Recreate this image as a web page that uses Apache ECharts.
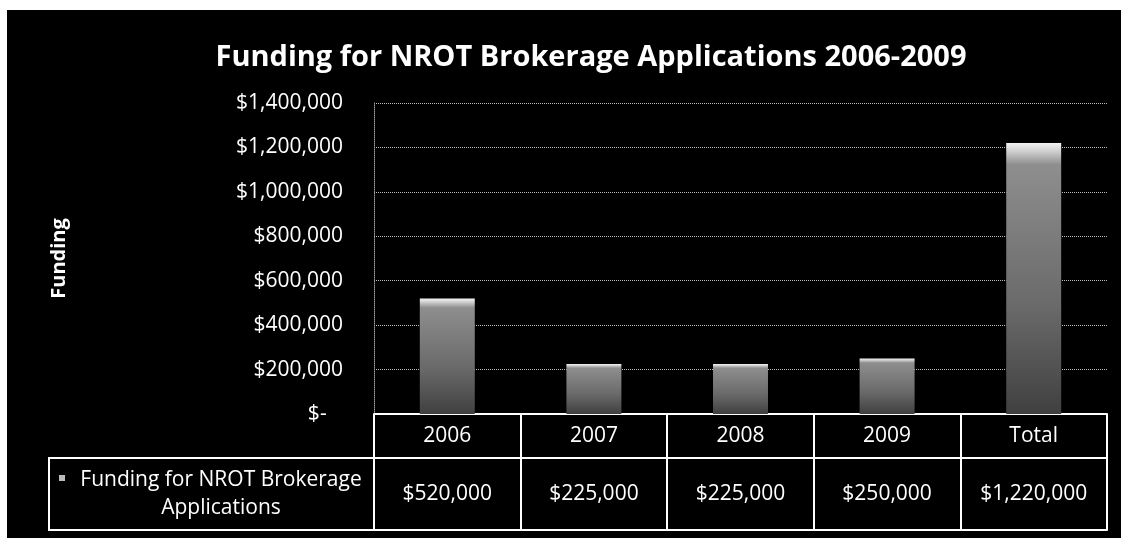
<!DOCTYPE html>
<html style="height: 100%">
    <head>
        <title>Funding for NROT Brokerage Applications</title>
        <script type="text/javascript" src="https://fastly.jsdelivr.net/npm/echarts@6.0.0/dist/echarts.min.js"></script>
    </head>
    <body style="height: 100%; margin: 0; background: #fff">
        <div id="target" style="position: absolute; left: 7px; top: 10px; width: 1114px; height: 528px; background: #000"></div>

<script type="text/javascript">
// chart data
let categories = ["2006", "2007", "2008", "2009", "Total"];
let funding = [520000, 225000, 225000, 250000, 1220000];
let seriesName = "Funding for NROT Brokerage Applications";
let yTicks = [0, 200000, 400000, 600000, 800000, 1000000, 1200000, 1400000];

let fontFamily = "'Open Sans', sans-serif";
let labelSize = 21;

let Money = (v) => {
    if (v == 0) return "$-   ";
    return "$" + v.toLocaleString("en-US");
};

let chart = echarts.init(document.getElementById('target'));
window.addEventListener("resize", chart.resize);

// plot area inside the black box (container coords)
let gridLeft = 367;
let gridTop = 93;
let gridRight = 14;
let gridBottom = 124;
let row1 = 44;
let row2 = 72;
let tableTop = 528 - gridBottom;

let option = {
    backgroundColor: "#000",
    textStyle: { fontFamily: fontFamily },
    animation: false,
    title: {
        text: "Funding for NROT Brokerage Applications 2006-2009",
        left: 579,
        top: 16,
        textAlign: "center",
        textStyle: {
            color: "#fff",
            fontSize: 29,
            fontWeight: "bold",
            fontFamily: fontFamily,
        },
    },
    grid: {
        left: gridLeft,
        top: gridTop,
        right: gridRight,
        bottom: gridBottom,
        containLabel: false,
    },
    xAxis: [
        {
            type: "category",
            data: categories,
            position: "bottom",
            axisLine: { show: true, lineStyle: { color: "#fff", width: 2 } },
            axisTick: { show: true, length: row1, lineStyle: { color: "#fff", width: 2 } },
            axisLabel: {
                color: "#fff",
                fontSize: labelSize,
                margin: row1 / 2,
                verticalAlign: "middle",
            },
        },
        {
            type: "category",
            data: funding.map(Money),
            position: "bottom",
            offset: row1,
            axisLine: { show: true, lineStyle: { color: "#fff", width: 2 } },
            axisTick: { show: true, length: row2, lineStyle: { color: "#fff", width: 2 } },
            axisLabel: {
                color: "#fff",
                fontSize: labelSize,
                margin: row2 / 2,
                verticalAlign: "middle",
            },
        },
        {
            type: "category",
            data: categories,
            position: "bottom",
            offset: row1 + row2,
            axisLine: { show: true, lineStyle: { color: "#fff", width: 2 } },
            axisTick: { show: false },
            axisLabel: { show: false },
        },
    ],
    yAxis: {
        type: "value",
        min: yTicks[0],
        max: yTicks[yTicks.length - 1],
        interval: yTicks[1] - yTicks[0],
        name: "Funding",
        nameLocation: "middle",
        nameGap: 296,
        nameTextStyle: {
            color: "#fff",
            fontSize: 20,
            fontWeight: "bold",
            fontFamily: fontFamily,
        },
        axisLine: { show: true, lineStyle: { color: "#999", type: "dotted", width: 1 } },
        axisTick: { show: false },
        axisLabel: {
            color: "#fff",
            fontSize: labelSize,
            margin: 31,
            formatter: (v) => Money(v),
        },
        splitLine: { show: true, lineStyle: { color: "#bbb", type: "dotted", width: 1 } },
    },
    series: [
        {
            name: seriesName,
            type: "bar",
            data: funding,
            barWidth: "37.5%",
            xAxisIndex: 0,
            itemStyle: {
                color: {
                    type: "linear",
                    x: 0, y: 0, x2: 0, y2: 1,
                    colorStops: [
                        { offset: 0, color: "#f4f4f4" },
                        { offset: 0.03, color: "#d0d0d0" },
                        { offset: 0.08, color: "#8e8e8e" },
                        { offset: 0.6, color: "#6a6a6a" },
                        { offset: 1, color: "#404040" },
                    ],
                },
            },
        },
    ],
    // legend cell of the data table
    graphic: [
        {
            type: "rect",
            shape: { x: 42, y: tableTop + row1, width: gridLeft - 42, height: row2 },
            style: { fill: null, stroke: "#fff", lineWidth: 2 },
        },
        {
            type: "rect",
            shape: { x: 52, y: tableTop + row1 + 17, width: 6, height: 6 },
            style: { fill: "#bbb" },
        },
        {
            type: "text",
            x: 214,
            y: tableTop + row1 + row2 / 2,
            style: {
                text: "Funding for NROT Brokerage\nApplications",
                fill: "#fff",
                fontSize: labelSize,
                lineHeight: 28,
                fontFamily: fontFamily,
                align: "center",
                verticalAlign: "middle",
            },
        },
    ],
};

chart.setOption(option);
</script>
    </body>
</html>
